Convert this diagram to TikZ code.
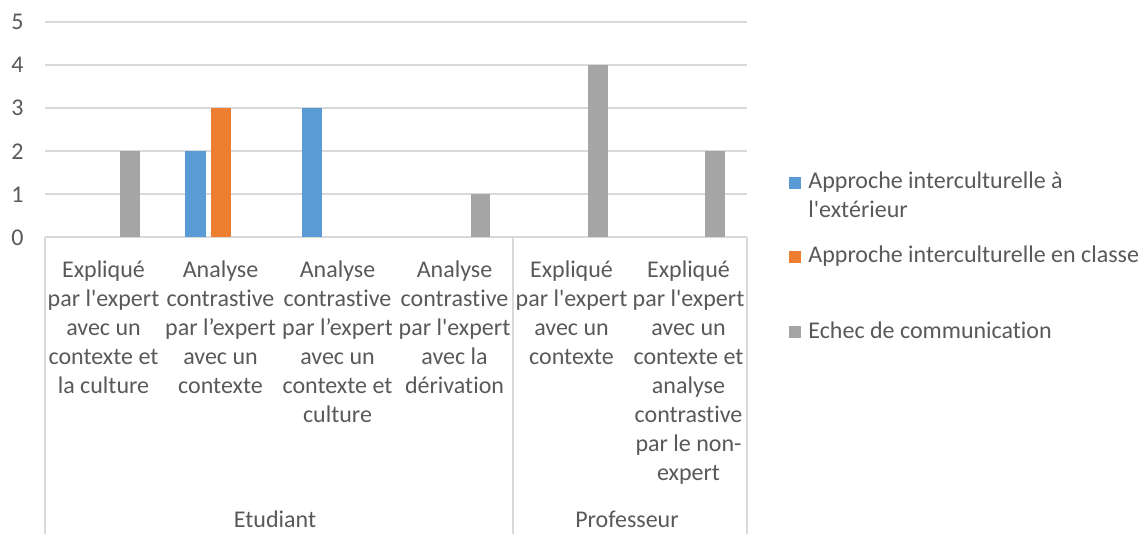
\documentclass[tikz,border=0pt]{standalone}
\usepackage{fontspec}
\newfontfamily\chartfont{Carlito}[Ligatures=CommonOff]
\usepackage{xcolor}
\usepackage{tikz}

\definecolor{serieA}{HTML}{5B9BD5}
\definecolor{serieB}{HTML}{ED7D31}
\definecolor{serieC}{HTML}{A5A5A5}
\definecolor{gridgray}{HTML}{D9D9D9}
\definecolor{labelgray}{HTML}{595959}

\tikzset{
	gridline/.style={draw=gridgray, line width=1pt},
	ticklabel/.style={anchor=base east, inner sep=0pt, text=labelgray, font=\chartfont\fontsize{12}{14.5}\selectfont},
	catlabel/.style={anchor=base, inner sep=0pt, text width=64pt, align=flush center, text=labelgray, font=\chartfont\fontsize{12}{14.5}\selectfont},
	grouplabel/.style={anchor=base, inner sep=0pt, text=labelgray, font=\chartfont\fontsize{12}{14.5}\selectfont},
	legsquare/.style={inner sep=0pt, minimum size=6pt},
	legtext/.style={anchor=base west, inner sep=0pt, text width=166pt, align=flush left, text=labelgray, font=\chartfont\fontsize{12}{14.5}\selectfont}
}

\begin{document}
\begin{tikzpicture}[x=0.5pt, y=-0.5pt]
				% Grid, axis, bars and labels:
				\useasboundingbox (0, 0) rectangle (1142, 534);
				\draw[gridline] (45, 21.8) -- (747, 21.8);
				\draw[gridline] (45, 64.9) -- (747, 64.9);
				\draw[gridline] (45, 108) -- (747, 108);
				\draw[gridline] (45, 151.1) -- (747, 151.1);
				\draw[gridline] (45, 194.2) -- (747, 194.2);
				\draw[gridline] (45, 237.3) -- (747, 237.3);
				\draw[gridline] (45, 237.3) -- (45, 534);
				\draw[gridline] (513, 237.3) -- (513, 534);
				\draw[gridline] (747, 237.3) -- (747, 534);
				\fill[serieC] (120, 237.3) rectangle (140, 151.1);
				\fill[serieA] (185, 237.3) rectangle (205.5, 151.1);
				\fill[serieB] (211, 237.3) rectangle (231, 108);
				\fill[serieA] (302, 237.3) rectangle (322, 108);
				\fill[serieC] (471, 237.3) rectangle (490, 194.2);
				\fill[serieC] (588, 237.3) rectangle (608, 64.9);
				\fill[serieC] (704.5, 237.3) rectangle (724.5, 151.1);
				\node[ticklabel](T0) at (24, 245.3){0};
				\node[ticklabel](T1) at (24, 202.2){1};
				\node[ticklabel](T2) at (24, 159.1){2};
				\node[ticklabel](T3) at (24, 116){3};
				\node[ticklabel](T4) at (24, 72.9){4};
				\node[ticklabel](T5) at (24, 29.8){5};
				\node[catlabel](C1) at (103.5, 278){Expliqué\\par l'expert\\avec un\\contexte et\\la culture};
				\node[catlabel](C2) at (220.5, 278){Analyse\\contrastive\\par l’expert\\avec un\\contexte};
				\node[catlabel](C3) at (337.5, 278){Analyse\\contrastive\\par l’expert\\avec un\\contexte et\\culture};
				\node[catlabel](C4) at (454.5, 278){Analyse\\contrastive\\par l'expert\\avec la\\dérivation};
				\node[catlabel](C5) at (571.5, 278){Expliqué\\par l'expert\\avec un\\contexte};
				\node[catlabel](C6) at (688.5, 278){Expliqué\\par l'expert\\avec un\\contexte et\\analyse\\contrastive\\par le non-\\expert};
				\node[grouplabel](G1) at (275, 528){Etudiant};
				\node[grouplabel](G2) at (627, 528){Professeur};
				\node[legsquare, fill=serieA](K1) at (795, 183){};
				\node[legtext](L1) at (808, 189){Approche interculturelle à\\l'extérieur};
				\node[legsquare, fill=serieB](K2) at (795, 257){};
				\node[legtext](L2) at (808, 262.5){Approche interculturelle en classe};
				\node[legsquare, fill=serieC](K3) at (795, 332){};
				\node[legtext](L3) at (808, 338.5){Echec de communication};
			\end{tikzpicture}
\end{document}
